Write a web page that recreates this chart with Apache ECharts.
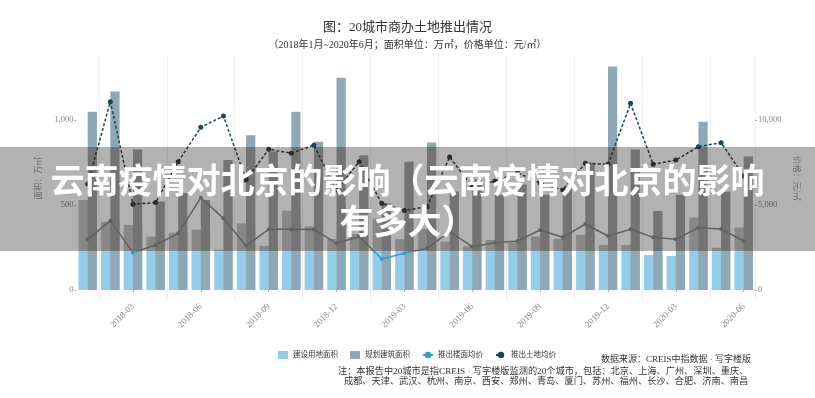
<!DOCTYPE html>
<html>
<head>
<meta charset="utf-8">
<script src="https://cdn.jsdelivr.net/npm/echarts@6/dist/echarts.min.js"></script>
<style>
html,body{margin:0;padding:0;background:#fff;}
#wrap{position:relative;width:815px;height:398px;overflow:hidden;}
#chart{width:815px;height:398px;}
#banner{position:absolute;left:0;top:147px;width:815px;height:104px;box-sizing:border-box;padding-top:11px;
  backdrop-filter:grayscale(1) brightness(0.7);-webkit-backdrop-filter:grayscale(1) brightness(0.7);
  color:#fff;font-family:'Noto Sans CJK SC',sans-serif;font-weight:700;font-size:34px;line-height:41px;text-align:center;pointer-events:none;}
</style>
</head>
<body>
<div id="wrap">
  <div id="chart"></div>
  <div id="banner">云南疫情对北京的影响（云南疫情对北京的影响<br>有多大）</div>
</div>
<script>
// ---- data ----
const months = ['2018-01','2018-02','2018-03','2018-04','2018-05','2018-06','2018-07','2018-08','2018-09','2018-10','2018-11','2018-12',
  '2019-01','2019-02','2019-03','2019-04','2019-05','2019-06','2019-07','2019-08','2019-09','2019-10','2019-11','2019-12',
  '2020-01','2020-02','2020-03','2020-04','2020-05','2020-06'];
const landArea = [529, 402, 382, 314, 337, 355, 238, 393, 259, 466, 373, 300, 330, 420, 300, 360, 284, 258, 294, 280, 314, 300, 325, 265, 265, 206, 200, 427, 249, 367];
const plannedArea = [1049, 1167, 827, 520, 570, 530, 765, 910, 814, 1049, 872, 1249, 792, 510, 755, 867, 580, 650, 560, 620, 560, 600, 748, 1314, 827, 465, 560, 990, 580, 786];
const floorPrice = [2980, 4078, 2196, 2647, 3333, 5431, 4216, 2608, 3569, 3569, 3560, 2745, 3137, 1824, 2157, 2451, 3431, 2549, 2784, 2882, 3529, 3098, 3882, 3176, 3569, 3098, 2980, 3667, 3588, 2882];
const landPrice = [6235, 11078, 5039, 5150, 7549, 9569, 10235, 6471, 8275, 8050, 8520, 5882, 7549, 5100, 4670, 4900, 7820, 6080, 6400, 6900, 6300, 5882, 7451, 7392, 10980, 7392, 7647, 8431, 8667, 6700];
const leftTicks = [0, 500, 1000];
const rightTicks = [0, 5000, 10000];
const seriesNames = ['建设用地面积', '规划建筑面积', '推出楼面均价', '推出土地均价'];
const titleText = '图：20城市商办土地推出情况';
const subTitleText = '（2018年1月~2020年6月；面积单位：万㎡，价格单位：元/㎡）';
const sourceText = '数据来源：CREIS中指数据 · 写字楼版';
const noteLine1 = '注：本报告中20城市是指CREIS · 写字楼版监测的20个城市，包括：北京、上海、广州、深圳、重庆、';
const noteLine2 = '成都、天津、武汉、杭州、南京、西安、郑州、青岛、厦门、苏州、福州、长沙、合肥、济南、南昌';

const FONT = "'Liberation Serif','Noto Sans CJK SC',serif";
const chart = echarts.init(document.getElementById('chart'), null, {renderer: 'canvas'});
const option = {
  animation: false,
  backgroundColor: '#fff',
  title: [
    {text: titleText, left: 'center', top: 16, textStyle: {fontSize: 13, fontWeight: 'normal', color: '#333', fontFamily: FONT}},
    {text: subTitleText, left: 'center', top: 35, textStyle: {fontSize: 10, fontWeight: 'normal', color: '#333', fontFamily: FONT}}
  ],
  legend: {
    left: 273, top: 346, itemWidth: 10, itemHeight: 8, itemGap: 12,
    textStyle: {fontSize: 7.5, color: '#333', fontFamily: FONT},
    data: [
      {name: seriesNames[0], icon: 'rect'},
      {name: seriesNames[1], icon: 'rect'},
      {name: seriesNames[2]},
      {name: seriesNames[3]}
    ]
  },
  grid: {left: 76.4, right: 60, top: 55.4, bottom: 96.95},
  xAxis: {
    type: 'category', data: months, boundaryGap: true,
    axisLine: {show: false},
    axisTick: {show: true, alignWithLabel: true, interval: (i) => i % 3 === 2, length: 2, lineStyle: {color: '#aaa'}},
    axisLabel: {interval: (i) => i % 3 === 2, rotate: 45, fontSize: 9, color: '#888', margin: 4, fontFamily: FONT},
    splitLine: {show: true, interval: (i) => i % 3 === 1, lineStyle: {color: '#eeeeee', width: 1}}
  },
  yAxis: [
    {
      type: 'value', min: -65, max: 1380,
      name: '面积：万㎡', nameLocation: 'middle', nameGap: 18, nameRotate: 90,
      nameTextStyle: {fontSize: 8.5, color: '#999', fontFamily: FONT},
      axisLine: {show: false},
      axisTick: {show: true, customValues: leftTicks, length: 2, lineStyle: {color: '#aaa'}},
      axisLabel: {customValues: leftTicks, fontSize: 8.5, color: '#888', margin: 3, fontFamily: FONT},
      splitLine: {show: false}
    },
    {
      type: 'value', min: -650, max: 13800, position: 'right',
      name: '价格：元/㎡', nameLocation: 'middle', nameGap: 22, nameRotate: -90,
      nameTextStyle: {fontSize: 8.5, color: '#999', fontFamily: FONT},
      axisLine: {show: false},
      axisTick: {show: true, customValues: rightTicks, length: 2, lineStyle: {color: '#aaa'}},
      axisLabel: {customValues: rightTicks, fontSize: 8.5, color: '#888', margin: 3, fontFamily: FONT},
      splitLine: {show: false}
    }
  ],
  graphic: [
    {type: 'text', x: 751, y: 360, style: {text: sourceText, align: 'right', verticalAlign: 'middle', fontSize: 9, fontFamily: FONT, fill: '#333'}},
    {type: 'text', x: 338, y: 371.5, style: {text: noteLine1, align: 'left', verticalAlign: 'middle', fontSize: 9.2, fontFamily: FONT, fill: '#333'}},
    {type: 'text', x: 344, y: 381.5, style: {text: noteLine2, align: 'left', verticalAlign: 'middle', fontSize: 9.2, fontFamily: FONT, fill: '#333'}}
  ],
  series: [
    {name: seriesNames[0], type: 'bar', yAxisIndex: 0, data: landArea, barWidth: 18.5, barGap: '-50%', itemStyle: {color: '#93cde9'}},
    {name: seriesNames[1], type: 'bar', yAxisIndex: 0, data: plannedArea, barWidth: 9.25, barGap: '-50%', itemStyle: {color: '#8fa8b5'}},
    {name: seriesNames[2], type: 'line', yAxisIndex: 1, data: floorPrice, symbol: 'circle', symbolSize: 4,
      itemStyle: {color: '#2b9fd8'}, lineStyle: {color: '#2b9fd8', width: 1.5}},
    {name: seriesNames[3], type: 'line', yAxisIndex: 1, data: landPrice, symbol: 'circle', symbolSize: 5,
      itemStyle: {color: '#14495b'}, lineStyle: {color: '#14495b', width: 1.5, type: [3, 2]}}
  ]
};
chart.setOption(option);
</script>
</body>
</html>
